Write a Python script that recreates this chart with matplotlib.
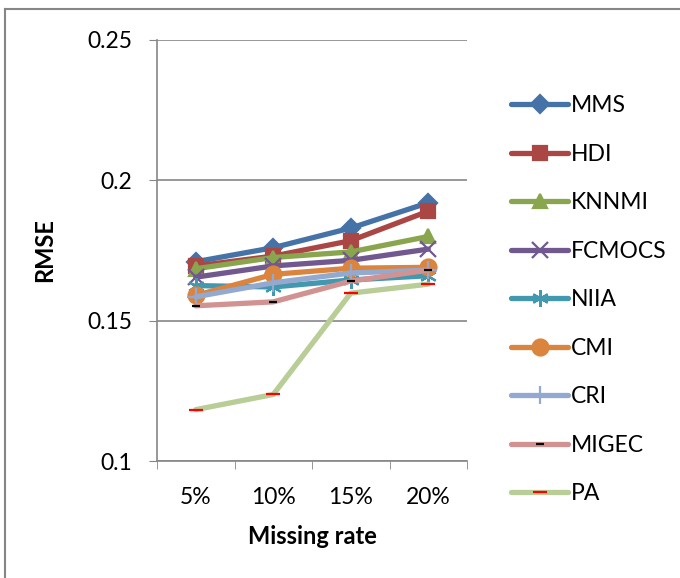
import numpy as np
import matplotlib.pyplot as plt
from matplotlib.lines import Line2D

plt.rcParams['font.family'] = ['Lato', 'DejaVu Sans']

# datos
rates = ['5%', '10%', '15%', '20%']
mms = [0.171, 0.176, 0.183, 0.192]
hdi = [0.1695, 0.173, 0.1785, 0.189]
knnmi = [0.1685, 0.1725, 0.1745, 0.180]
fcmocs = [0.1655, 0.1695, 0.1715, 0.1755]
niia = [0.1625, 0.1620, 0.1645, 0.1660]
cmi = [0.159, 0.1665, 0.1687, 0.169]
cri = [0.1585, 0.1635, 0.167, 0.168]
migec = [0.1553, 0.1567, 0.1641, 0.168]
pa = [0.1183, 0.1237, 0.1598, 0.1630]

names = ['MMS', 'HDI', 'KNNMI', 'FCMOCS', 'NIIA', 'CMI', 'CRI', 'MIGEC', 'PA']
series = [mms, hdi, knnmi, fcmocs, niia, cmi, cri, migec, pa]

# estilos estilo Excel 2007
colores = ['#4572A7', '#AA4643', '#89A54E', '#71588F', '#4198AF',
           '#DB843D', '#93A9CF', '#D19392', '#B9CD96']
marcas = ['D', 's', '^', 'x', (6, 2, 0), 'o', '+', '_', '_']
tam = [9.5, 10.5, 10.5, 11, 12, 11.5, 13, 6, 10]
color_marca = colores[:7] + ['black', 'red']

fig = plt.figure(figsize=(6.8, 5.78), dpi=100)
ax = fig.add_axes([157/680, 1-461/578, 310/680, 421/578])

x = np.arange(len(rates))
for nombre, ys, c, m, s, mc in zip(names, series, colores, marcas, tam, color_marca):
    ax.plot(x, ys, color=c, linewidth=3.8, marker=m, markersize=s,
            markerfacecolor=mc, markeredgecolor=mc, markeredgewidth=1.6,
            label=nombre, solid_capstyle='round')

ax.set_xlim(-0.5, 3.5)
ax.set_ylim(0.1, 0.25)
ax.set_yticks([0.1, 0.15, 0.2, 0.25])
ax.set_yticklabels(['0.1', '0.15', '0.2', '0.25'])
ax.set_xticks(x)
ax.set_xticklabels(rates)
ax.set_xticks(np.arange(-0.5, 4, 1), minor=True)
ax.tick_params(axis='x', which='major', length=0, labelsize=16.5, pad=19)
ax.tick_params(axis='x', which='minor', length=6, color='#868686', direction='out')
ax.tick_params(axis='y', length=6, color='#868686', labelsize=16.5, pad=12)

ax.grid(axis='y', color='#868686', linewidth=1.2)
ax.set_axisbelow(True)
for lado in ['top', 'right']:
    ax.spines[lado].set_visible(False)
ax.spines['left'].set_color('#868686')
ax.spines['bottom'].set_color('#868686')
ax.spines['left'].set_linewidth(1.2)
ax.spines['bottom'].set_linewidth(1.2)

ax.set_ylabel('RMSE', fontsize=17, fontweight='bold', labelpad=22)
ax.set_xlabel('Missing rate', fontsize=17, fontweight='bold', labelpad=12)

ax.legend(loc='upper left', bbox_to_anchor=(502/680, 1-86/578),
          bbox_transform=fig.transFigure, frameon=False, fontsize=16.5,
          handlelength=2.5, labelspacing=1.2, handletextpad=0.1,
          borderaxespad=0)

# borde de la figura (solo arriba e izquierda visibles)
fig.add_artist(Line2D([5/680, 5/680], [0, 1-9/578], transform=fig.transFigure,
                      color='#868686', linewidth=1.5))
fig.add_artist(Line2D([5/680, 1], [1-9/578, 1-9/578], transform=fig.transFigure,
                      color='#868686', linewidth=1.5))

plt.savefig('out.png', dpi=100)
